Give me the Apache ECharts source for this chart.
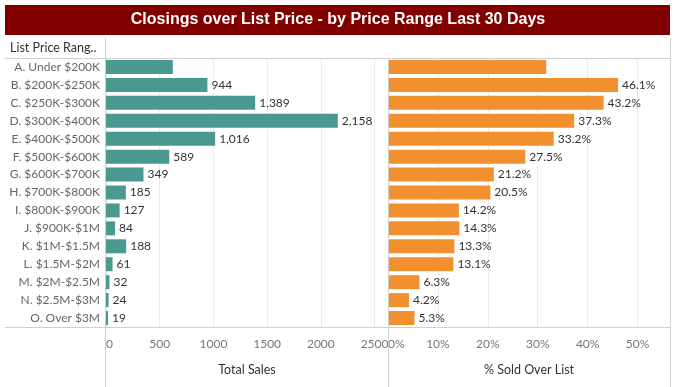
<!DOCTYPE html>
<html>
<head>
<meta charset="utf-8">
<script src="https://cdn.jsdelivr.net/npm/echarts@6/dist/echarts.min.js"></script>
<style>
html,body{margin:0;padding:0;background:#fff;}
#chart{width:676px;height:387px;}
</style>
</head>
<body>
<div id="chart"></div>
<script>
const categories = ['A. Under $200K','B. $200K-$250K','C. $250K-$300K','D. $300K-$400K','E. $400K-$500K','F. $500K-$600K','G. $600K-$700K','H. $700K-$800K','I. $800K-$900K','J. $900K-$1M','K. $1M-$1.5M','L. $1.5M-$2M','M. $2M-$2.5M','N. $2.5M-$3M','O. Over $3M'];
const totalSales = [622, 944, 1389, 2158, 1016, 589, 349, 185, 127, 84, 188, 61, 32, 24, 19];
const pctSoldOverList = [31.7, 46.1, 43.2, 37.3, 33.2, 27.5, 21.2, 20.5, 14.2, 14.3, 13.3, 13.1, 6.3, 4.2, 5.3];
const unlabeledCategories = ['A. Under $200K'];
const titleText = 'Closings over List Price - by Price Range Last 30 Days';
const headerText = 'List Price Rang..';
const leftAxisName = 'Total Sales';
const rightAxisName = '% Sold Over List';

const FONT = 'Lato';
const borderColor = '#d0d0d0';

function items(values) {
  return values.map((v, i) => unlabeledCategories.includes(categories[i]) ? {value: v, label: {show: false}} : v);
}

const chart = echarts.init(document.getElementById('chart'), null, {renderer: 'canvas'});
const axisLabelStyle = {color: '#777', fontSize: 12, fontFamily: FONT, margin: 11, alignMinLabel: 'left', showMaxLabel: false};
const option = {
  animation: false,
  textStyle: {fontFamily: FONT},
  grid: [
    {left: 106, top: 58, width: 282, height: 269},
    {left: 388, top: 58, width: 282, height: 269}
  ],
  xAxis: [
    {type: 'value', gridIndex: 0, min: 0, max: 2625, interval: 500,
     axisLine: {show: false}, axisTick: {show: false},
     splitLine: {lineStyle: {color: '#ececec'}},
     axisLabel: Object.assign({}, axisLabelStyle, {formatter: v => String(v)}),
     name: leftAxisName, nameLocation: 'middle', nameGap: 36,
     nameTextStyle: {color: '#333', fontSize: 12.5, fontFamily: FONT}},
    {type: 'value', gridIndex: 1, min: 0, max: 56.5, interval: 10,
     axisLine: {show: false}, axisTick: {show: false},
     splitLine: {lineStyle: {color: '#ececec'}},
     axisLabel: Object.assign({}, axisLabelStyle, {formatter: v => v + '%'}),
     name: rightAxisName, nameLocation: 'middle', nameGap: 36,
     nameTextStyle: {color: '#333', fontSize: 12.5, fontFamily: FONT}}
  ],
  yAxis: [
    {type: 'category', gridIndex: 0, data: categories, inverse: true,
     axisLine: {show: false}, axisTick: {show: false}, splitLine: {show: false},
     axisLabel: {color: '#666', fontSize: 12, fontFamily: FONT, margin: 6}},
    {type: 'category', gridIndex: 1, data: categories, inverse: true,
     axisLine: {show: false}, axisTick: {show: false}, splitLine: {show: false},
     axisLabel: {show: false}}
  ],
  series: [
    {type: 'bar', xAxisIndex: 0, yAxisIndex: 0, data: items(totalSales), barWidth: 14,
     itemStyle: {color: '#4b9893'},
     label: {show: true, position: 'right', distance: 4, color: '#333', fontSize: 12, fontFamily: FONT,
             formatter: p => p.value.toLocaleString('en-US')}},
    {type: 'bar', xAxisIndex: 1, yAxisIndex: 1, data: items(pctSoldOverList), barWidth: 14,
     itemStyle: {color: '#f28f2e'},
     label: {show: true, position: 'right', distance: 4, color: '#333', fontSize: 12, fontFamily: FONT,
             formatter: p => p.value.toFixed(1) + '%'}}
  ],
  graphic: [
    {type: 'rect', shape: {x: 5, y: 5, width: 665, height: 30}, style: {fill: '#800000'}, z: 10},
    {type: 'text', x: 338, y: 20, style: {text: titleText, fill: '#fff', font: 'bold 16px "Liberation Sans", Arial, sans-serif', align: 'center', verticalAlign: 'middle'}, z: 11},
    {type: 'text', x: 10, y: 48, style: {text: headerText, fill: '#333', font: '12.5px ' + FONT, align: 'left', verticalAlign: 'middle'}, z: 11},
    {type: 'line', shape: {x1: 5, y1: 58.5, x2: 670, y2: 58.5}, style: {stroke: borderColor, lineWidth: 1}, z: 12},
    {type: 'line', shape: {x1: 5, y1: 327.5, x2: 670, y2: 327.5}, style: {stroke: borderColor, lineWidth: 1}, z: 12},
    {type: 'line', shape: {x1: 105.5, y1: 38, x2: 105.5, y2: 387}, style: {stroke: borderColor, lineWidth: 1}, z: 12},
    {type: 'line', shape: {x1: 388.5, y1: 58, x2: 388.5, y2: 387}, style: {stroke: borderColor, lineWidth: 1}, z: 12},
    {type: 'line', shape: {x1: 670.5, y1: 38, x2: 670.5, y2: 387}, style: {stroke: borderColor, lineWidth: 1}, z: 12}
  ]
};
chart.setOption(option);
</script>
</body>
</html>
